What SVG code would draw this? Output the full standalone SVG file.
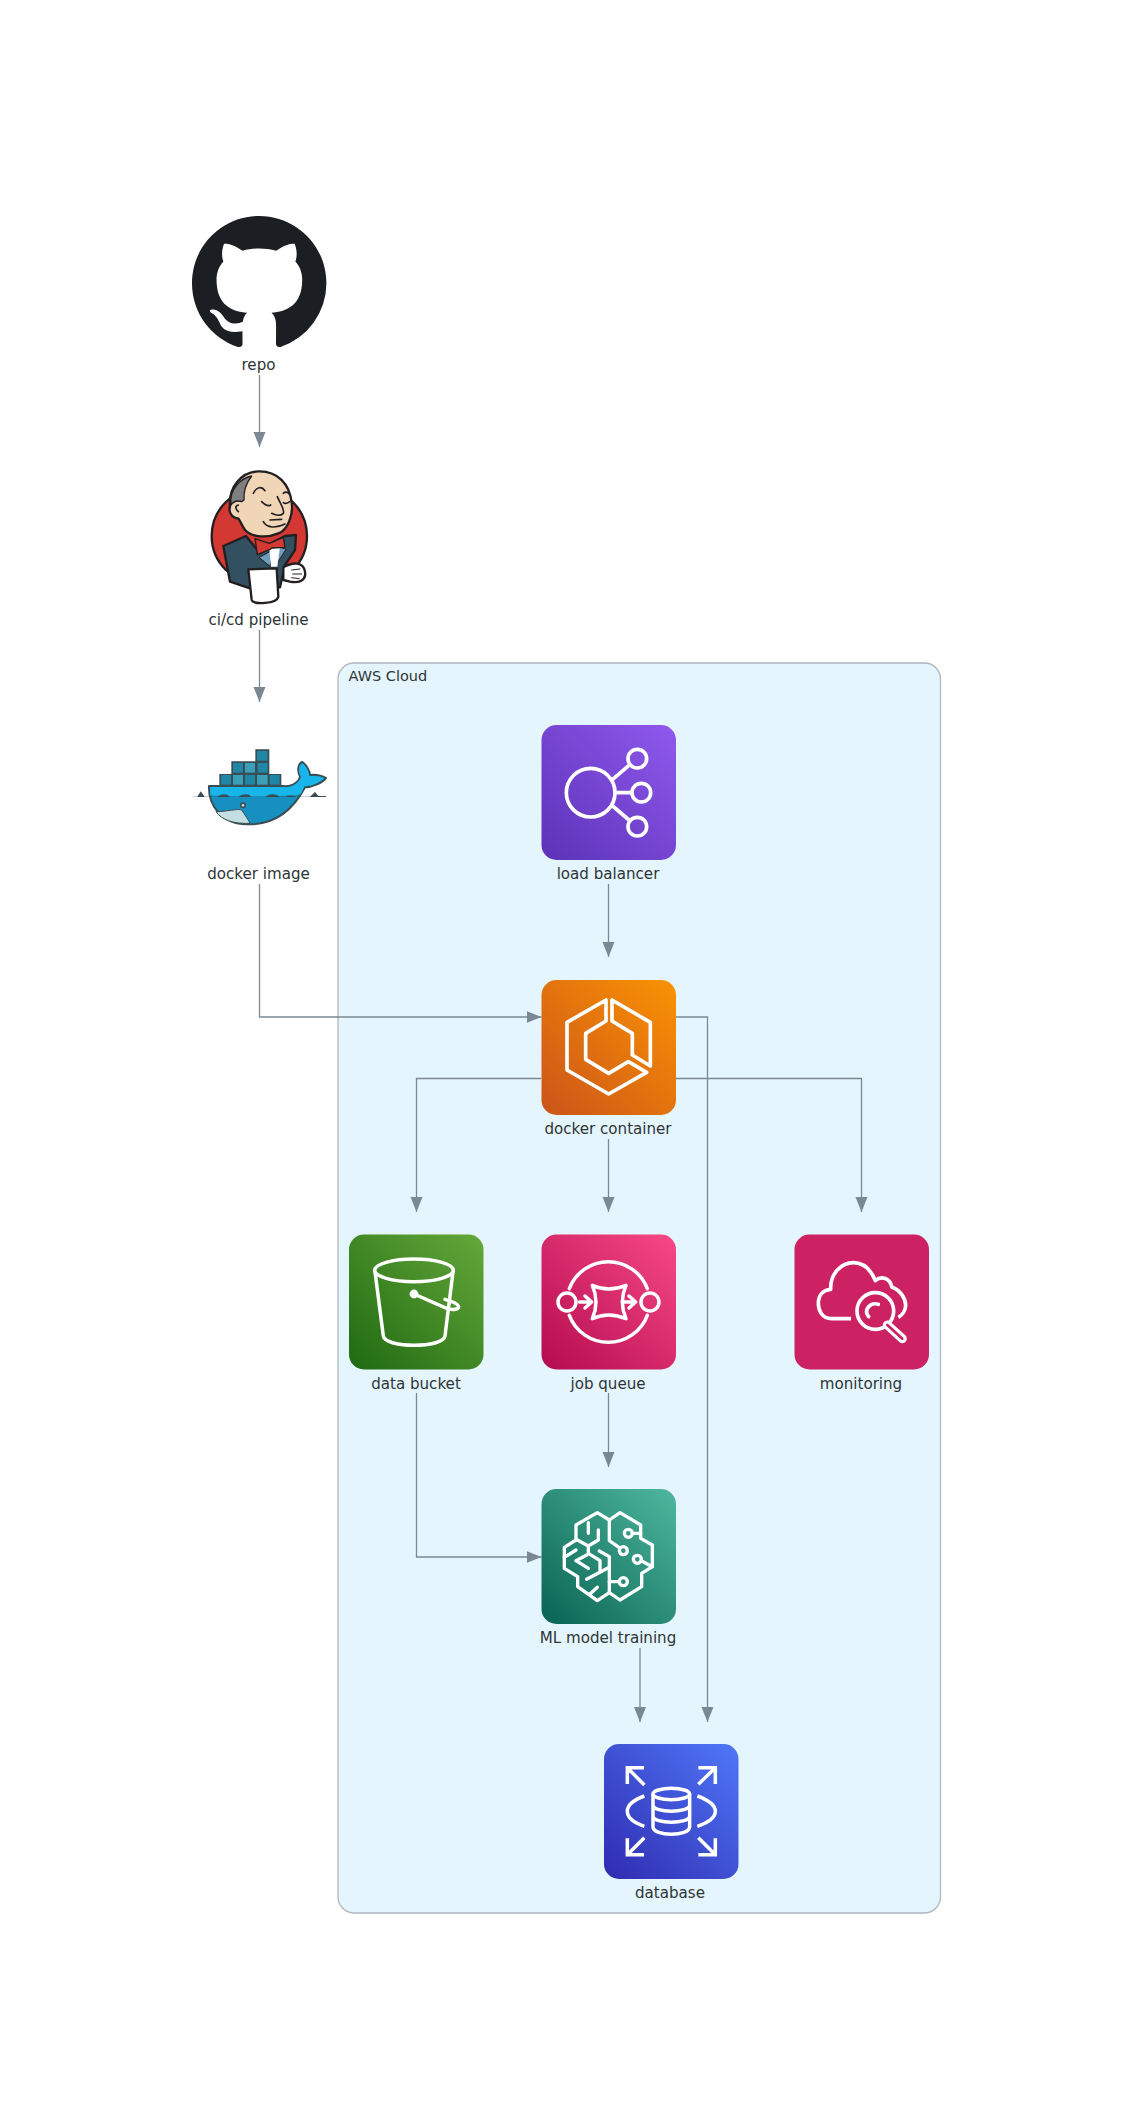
<svg xmlns="http://www.w3.org/2000/svg" width="1143" height="2116" viewBox="0 0 1143 2116">
<style>
text{font-family:"DejaVu Sans",sans-serif;font-size:15.100px;fill:#2D3436}
.c{font-size:14.500px}
.l{text-anchor:middle}
.e{fill:none;stroke:#7B8894;stroke-width:1.3}
.i{fill:none;stroke:#fff;stroke-linejoin:round;stroke-linecap:round}
.z{transform:scale(.33333)}
</style>
<defs>
<marker id="a" markerUnits="userSpaceOnUse" markerWidth="16" markerHeight="14" refX="15" refY="7" orient="auto"><path d="M0,1L15,7L0,13Z" fill="#7B8894"/></marker>
<linearGradient id="gP" x1="-.05" y1="1.05" x2="1.1" y2="-.1"><stop offset="0" stop-color="#5A30B5"/><stop offset="1" stop-color="#945DF2"/></linearGradient>
<linearGradient id="gO" x1="-.05" y1="1.05" x2="1.1" y2="-.1"><stop offset="0" stop-color="#C8511B"/><stop offset="1" stop-color="#FF9900"/></linearGradient>
<linearGradient id="gG" x1="-.05" y1="1.05" x2="1.1" y2="-.1"><stop offset="0" stop-color="#1B660F"/><stop offset="1" stop-color="#6CAE3E"/></linearGradient>
<linearGradient id="gR" x1="-.05" y1="1.05" x2="1.1" y2="-.1"><stop offset="0" stop-color="#B0084D"/><stop offset="1" stop-color="#FF4F8B"/></linearGradient>
<linearGradient id="gT" x1="-.05" y1="1.05" x2="1.1" y2="-.1"><stop offset="0" stop-color="#055F4E"/><stop offset="1" stop-color="#56C0A7"/></linearGradient>
<linearGradient id="gB" x1="-.05" y1="1.05" x2="1.1" y2="-.1"><stop offset="0" stop-color="#2E27AD"/><stop offset="1" stop-color="#527FFF"/></linearGradient>
</defs>
<rect width="1143" height="2116" fill="#fff"/>
<g id="aws-cloud">
<rect x="338" y="663" width="602.500" height="1250" rx="16" fill="#E5F5FD" stroke="#AEB6BE" stroke-width="1.3"/>
<text class="c" x="348.500" y="680.500">AWS Cloud</text>
</g>
<g id="connectors">
<path class="e" marker-end="url(#a)" d="M259.500,375V447"/>
<path class="e" marker-end="url(#a)" d="M259.500,630V702"/>
<path class="e" marker-end="url(#a)" d="M259.500,884V1017H541.500"/>
<path class="e" marker-end="url(#a)" d="M608.500,884V957"/>
<path class="e" marker-end="url(#a)" d="M676,1017H707.500V1722"/>
<path class="e" marker-end="url(#a)" d="M541,1078.500H416.500V1212"/>
<path class="e" marker-end="url(#a)" d="M608.500,1139V1212"/>
<path class="e" marker-end="url(#a)" d="M676,1078.500H861.500V1212"/>
<path class="e" marker-end="url(#a)" d="M608.500,1393V1467"/>
<path class="e" marker-end="url(#a)" d="M416.500,1393V1557H541.500"/>
<path class="e" marker-end="url(#a)" d="M640,1648V1722"/>
</g>
<g id="repo">
<path transform="translate(192 216) scale(8.400)" fill="#1B1F23" d="M8 0C3.58 0 0 3.58 0 8c0 3.54 2.29 6.53 5.47 7.59.4.07.55-.17.55-.38 0-.19-.01-.82-.01-1.49-2.01.37-2.53-.49-2.69-.94-.09-.23-.48-.94-.82-1.13-.28-.15-.68-.52-.01-.53.63-.01 1.08.58 1.23.82.72 1.21 1.87.87 2.33.66.07-.52.28-.87.51-1.07-1.78-.2-3.64-.89-3.64-3.95 0-.87.31-1.59.82-2.15-.08-.2-.36-1.02.08-2.12 0 0 .67-.21 2.2.82.64-.18 1.32-.27 2-.27.68 0 1.36.09 2 .27 1.53-1.04 2.2-.82 2.2-.82.44 1.1.16 1.92.08 2.12.51.56.82 1.28.82 2.15 0 3.07-1.87 3.75-3.65 3.95.29.25.54.73.54 1.48 0 1.07-.01 1.93-.01 2.2 0 .21.15.46.55.38A8.013 8.013 0 0016 8c0-4.42-3.58-8-8-8z"/>
<text class="l" x="258.500" y="370">repo</text>
</g>
<g id="cicd-pipeline">
<g transform="translate(170 450)"><g class="z" stroke="#231F20" stroke-width="7" stroke-linejoin="round" stroke-linecap="round">
<circle cx="268" cy="258" r="143" fill="#D33833"/>
<path fill="#335061" d="M160,288L228,258L262,300L345,258L378,255L375,300L345,345L330,412L240,415L180,395Z"/>
<path fill="#6D9EBF" stroke-width="3" d="M268,322L312,298L300,348ZM328,290L348,298L320,342Z"/>
<path fill="#fff" stroke="none" d="M298,298L330,290L322,350L303,350Z"/>
<path fill="#F0D6B7" d="M180,170C175,110 215,66 265,64C320,62 360,100 365,160C370,190 355,240 325,250C290,265 245,262 225,240C215,225 212,215 205,205C185,205 175,185 180,170Z"/>
<path fill="#807F80" stroke-width="4" d="M183,160C178,120 210,85 245,78C228,100 220,120 222,150L215,155C200,150 190,155 183,165Z"/>
<path fill="none" stroke-width="5" d="M250,130C260,110 275,108 285,122M340,130C345,125 352,125 358,132M275,155C285,165 295,170 302,165M340,158C345,162 355,160 358,155M322,140C330,160 345,180 340,190C330,200 315,195 305,190M280,215C290,235 320,235 345,222M300,210L335,208M205,185C195,175 195,168 205,165"/>
<path fill="#D33833" stroke-width="4" d="M255,266L298,280L340,262L345,292L306,294L300,298L262,314Z"/>
<path fill="#fff" d="M235,358L320,355L325,440C320,462 250,465 245,450Z"/>
<path fill="#fff" d="M340,352C370,335 400,335 405,365C410,392 385,400 360,395L340,390Z"/>
<path fill="none" stroke-width="3" d="M365,360L390,357M368,372L395,372M365,383L388,386"/>
</g></g>
<text class="l" x="258.500" y="625">ci/cd pipeline</text>
</g>
<g id="docker-image">
<g transform="translate(170 700)"><g class="z">
<path fill="#394D54" d="M256,148H298V222H334V258H148V222H184V184H256Z"/>
<g fill="#1F86A6"><rect x="261" y="153" width="32" height="29"/><rect x="189" y="189" width="30" height="29"/><rect x="263" y="189" width="30" height="29"/><rect x="153" y="225" width="30" height="29"/><rect x="225" y="225" width="30" height="29"/><rect x="299" y="225" width="30" height="29"/></g>
<g fill="#3AA0B8"><rect x="225" y="189" width="30" height="29"/><rect x="189" y="225" width="30" height="29"/><rect x="261" y="225" width="32" height="29"/></g>
<path fill="#1590C0" stroke="#394D54" stroke-width="6" stroke-linejoin="round" d="M117,258L340,258C360,262 385,250 390,230C380,210 385,190 397,186C410,195 420,215 420,225C440,222 460,228 468,234C455,250 425,262 405,262C385,300 340,375 235,373C150,375 115,310 117,258Z"/>
<path fill="#17B5EA" d="M120,261H340C360,265 385,253 393,232C383,210 387,195 397,190C408,197 417,215 418,229C438,226 455,230 463,235C450,248 425,258 403,259C400,268 396,276 392,283C340,292 130,292 121,285Z"/>
<path fill="#394D54" d="M68,290H82L92,274L104,290H140C155,280 170,280 180,290H205C220,280 235,280 245,290H285C300,280 315,280 330,290H345C352,285 365,285 380,290H420L435,276L445,288H468V291H68Z"/>
<path fill="#C5DEE2" stroke="#394D54" stroke-width="3" d="M138,335C170,335 205,325 215,330C225,345 235,360 240,370C190,372 155,360 138,335Z"/>
<circle cx="219" cy="316" r="9" fill="#394D54"/><circle cx="219" cy="316" r="4" fill="#BFD9E0"/>
</g></g>
<text class="l" x="258.500" y="879">docker image</text>
</g>
<g id="load-balancer">
<rect x="541.500" y="725" width="134.500" height="135" rx="15" fill="url(#gP)"/>
<g transform="translate(330 650)"><g class="z i" stroke-width="11">
<circle cx="782" cy="428" r="73"/><circle cx="922" cy="326" r="28"/><circle cx="934" cy="428" r="28"/><circle cx="922" cy="530" r="28"/>
<path d="M848,388L897,346M857,428H904M848,468L897,510"/>
</g></g>
<text class="l" x="608" y="879">load balancer</text>
</g>
<g id="docker-container">
<rect x="541.500" y="980" width="134.500" height="135" rx="15" fill="url(#gO)"/>
<g transform="translate(520 960)"><g class="z i" stroke-width="11">
<path d="M258,120V183L197,220V298L266,340L325,305L380,337L266,402L141,330V187Z"/>
<path d="M276,120V183L337,220V285L391,318V187Z"/>
</g></g>
<text class="l" x="608" y="1134">docker container</text>
</g>
<g id="data-bucket">
<rect x="349" y="1234.500" width="134.500" height="135" rx="15" fill="url(#gG)"/>
<g transform="translate(330 1210)"><g class="z i" stroke-width="10.500">
<ellipse cx="252" cy="181" rx="118" ry="34"/>
<path d="M135,185L160,378C165,415 340,415 345,378L369,185"/>
<path d="M252,252L350,295C375,303 390,295 385,288C380,278 360,272 345,268"/>
<circle cx="252" cy="252" r="8" fill="#fff"/>
</g></g>
<text class="l" x="416" y="1389">data bucket</text>
</g>
<g id="job-queue">
<rect x="541.500" y="1234.500" width="134.500" height="135" rx="15" fill="url(#gR)"/>
<g transform="translate(330 1210)"><g class="z i" stroke-width="10.500">
<path d="M718,236A125,125 0 0 1 952,236M718,316A125,125 0 0 0 952,316"/>
<circle cx="711" cy="276" r="27"/><circle cx="960" cy="276" r="27"/>
<path d="M787,226Q835,248 888,226Q866,276 888,326Q835,304 787,326Q809,276 787,226Z"/>
<path d="M748,276H785M765,258L785,276L765,294M880,276H917M897,258L917,276L897,294"/>
</g></g>
<text class="l" x="608" y="1389">job queue</text>
</g>
<g id="monitoring">
<rect x="794.500" y="1234.500" width="134.500" height="135" rx="15" fill="#CC2264"/>
<g transform="translate(770 1210)"><g class="z i" stroke-width="11">
<path stroke-linecap="butt" d="M243,326H185C155,326 145,300 145,280C145,255 160,240 182,238C180,190 215,158 250,158C285,158 305,185 316,212C335,195 360,205 366,232C390,240 407,265 407,285C407,300 398,315 385,322"/>
<circle cx="316" cy="303" r="55"/>
<path d="M352,345L397,386" stroke-width="27"/>
<path d="M352,345L397,386" stroke="#CC2264" stroke-width="8"/>
<path d="M325,283C300,275 280,300 296,320"/>
</g></g>
<text class="l" x="861" y="1389">monitoring</text>
</g>
<g id="ml-model-training">
<rect x="541.500" y="1489" width="134.500" height="135" rx="15" fill="url(#gT)"/>
<g transform="translate(520 1470)"><g class="z i" stroke-width="10">
<path d="M268,150L232,128L168,165V210L133,232V295L173,320V350L232,392L268,368L300,390L365,350V310L397,290V225L362,205V165L300,128L268,150V212L298,233"/>
<path d="M238,243L268,260V368M200,328L268,292M205,158V190M235,180V210L205,228L168,208M133,262L168,240M205,228V250L240,272V300M168,272L200,255M168,272L205,295M210,372L232,352"/>
<circle cx="310" cy="242" r="12"/><circle cx="325" cy="190" r="12"/><circle cx="352" cy="268" r="12"/><circle cx="310" cy="335" r="12"/>
<path d="M337,190H362M364,272L397,290M298,335H268"/>
</g></g>
<text class="l" x="608" y="1643">ML model training</text>
</g>
<g id="database">
<rect x="604" y="1744" width="134.500" height="135" rx="15" fill="url(#gB)"/>
<g transform="translate(590 1720)"><g class="z i" stroke-width="10.500" style="stroke-linecap:butt;stroke-linejoin:miter">
<path d="M163,195L112,143M112,192V143H162M325,193L376,143M325,143H376V192M163,353L112,404M112,355V404H162M325,353L376,404M325,404H376V355"/>
<path d="M163,228C130,240 112,255 112,274C112,293 130,308 163,319M322,228C355,240 376,255 376,274C376,293 355,308 322,319"/>
<ellipse cx="244" cy="222" rx="55" ry="17"/>
<path d="M189,222V320C189,350 299,350 299,320V222M189,255C189,280 299,280 299,255M189,288C189,313 299,313 299,288"/>
</g></g>
<text class="l" x="670" y="1898">database</text>
</g>
</svg>
